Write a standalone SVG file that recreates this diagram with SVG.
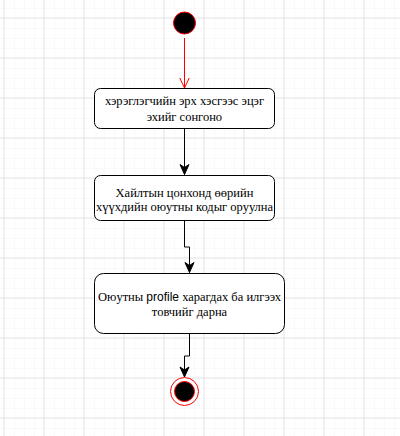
<svg xmlns="http://www.w3.org/2000/svg" width="400" height="436" viewBox="0 0 400 436">
<defs>
<pattern id="minor" x="4" y="8" width="10" height="10" patternUnits="userSpaceOnUse">
<path d="M0 0H10M0 0V10" fill="none" stroke="#f3f3f3" stroke-width="1"/>
</pattern>
<pattern id="major" x="3.5" y="17.5" width="40" height="40" patternUnits="userSpaceOnUse">
<path d="M0 0.5H40M0.5 0V40" fill="none" stroke="#e4e4e4" stroke-width="1"/>
</pattern>
<marker id="open" markerWidth="12" markerHeight="12" refX="10" refY="5" orient="auto" markerUnits="userSpaceOnUse" overflow="visible">
<path d="M0 0.3L10 5L0 9.7" fill="none" stroke="#ff0000" stroke-width="1"/>
</marker>
<marker id="classic" markerWidth="12" markerHeight="12" refX="10" refY="4.5" orient="auto" markerUnits="userSpaceOnUse" overflow="visible">
<path d="M0 0L10 4.5L0 9L3 4.5Z" fill="#000" stroke="#000" stroke-width="1"/>
</marker>
</defs>
<style>
.box{fill:#fff;stroke:#000;stroke-width:1}
.lbl{font-family:"Liberation Serif","Times New Roman",serif;font-size:12.5px;fill:#000;text-anchor:middle}
.sans{font-family:"Liberation Sans",Arial,sans-serif;font-size:12px}
.edge{fill:none;stroke:#000;stroke-width:1}
</style>
<rect width="400" height="436" fill="#fff"/>
<rect width="400" height="436" fill="url(#minor)"/>
<rect width="400" height="436" fill="url(#major)"/>
<g id="edges">
<path d="M184.5 38V88" fill="none" stroke="#ff0000" stroke-width="1" marker-end="url(#open)"/>
<path class="edge" d="M184.5 128V174.5" marker-end="url(#classic)"/>
<path class="edge" d="M184.5 221V247H189.5V272.5" marker-end="url(#classic)"/>
<path class="edge" d="M189.5 333V356H184.5V377" marker-end="url(#classic)"/>
</g>
<g id="start">
<circle cx="184.5" cy="23" r="11" fill="#000" stroke="#ff0000" stroke-width="1"/>
</g>
<g id="node1">
<rect class="box" x="94.5" y="88.5" width="180" height="40" rx="6"/>
<text class="lbl" x="184.5" y="104.5">хэрэглэгчийн эрх хэсгээс эцэг</text>
<text class="lbl" x="184.5" y="120.5">эхийг сонгоно</text>
</g>
<g id="node2">
<rect class="box" x="94.5" y="175.5" width="180" height="45" rx="6"/>
<text class="lbl" x="184.5" y="196.5">Хайлтын цонхонд өөрийн</text>
<text class="lbl" x="184.5" y="211">хүүхдийн оюутны кодыг оруулна</text>
</g>
<g id="node3">
<rect class="box" x="94.5" y="273.5" width="190" height="60" rx="9"/>
<text class="lbl" x="189.5" y="300.5">Оюутны <tspan class="sans">profile</tspan> харагдах ба илгээх</text>
<text class="lbl" x="189.5" y="315.5">товчийг дарна</text>
</g>
<g id="end">
<circle cx="184.5" cy="391.5" r="14" fill="#fff" stroke="#ff0000" stroke-width="1"/>
<circle cx="184.5" cy="391.5" r="10" fill="#000" stroke="#ff0000" stroke-width="1"/>
</g>
</svg>
